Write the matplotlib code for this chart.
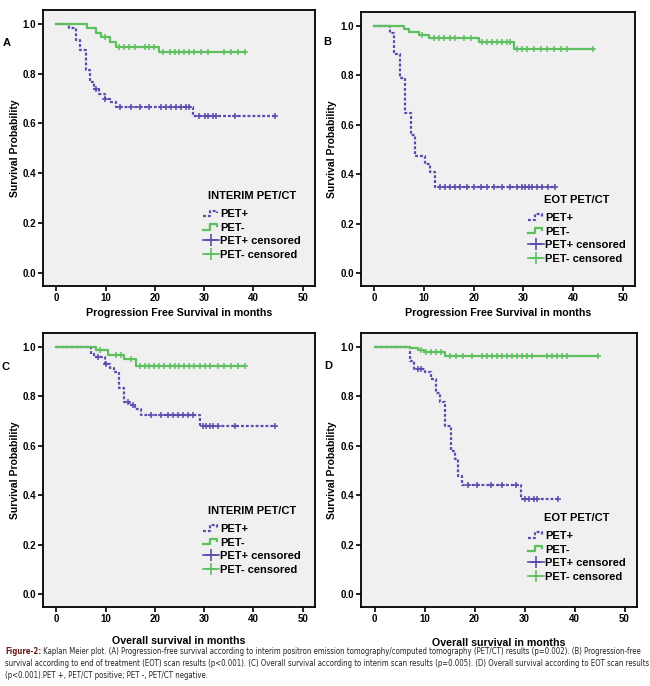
import numpy as np
import matplotlib
matplotlib.use("Agg")
import matplotlib.pyplot as plt
from matplotlib.lines import Line2D
from matplotlib.legend_handler import HandlerBase
from matplotlib import font_manager
from matplotlib.font_manager import FontProperties

# ---------------- data ----------------
panel_letters = ["A", "B", "C", "D"]
legend_titles = ["INTERIM PET/CT", "EOT PET/CT", "INTERIM PET/CT", "EOT PET/CT"]
x_labels = ["Progression Free Survival in months", "Progression Free Survival in months",
            "Overall survival in months", "Overall survival in months"]
series_labels = ["PET+", "PET-", "PET+ censored", "PET- censored"]
y_ticks = [0.0, 0.2, 0.4, 0.6, 0.8, 1.0]
x_ticks = [0, 10, 20, 30, 40, 50]

# Panel A: PFS by interim PET/CT
a_pos_times = [2.6, 4.0, 4.9, 6.0, 6.9, 7.7, 8.7, 9.8, 10.8, 12.1, 27.7]
a_pos_surv = [0.981, 0.934, 0.894, 0.813, 0.766, 0.739, 0.719, 0.699, 0.685, 0.665, 0.629]
a_pos_cens = [8.0, 9.9, 12.9, 15.2, 16.9, 18.9, 21.3, 22.3, 23.3, 24.3, 25.3, 26.4, 27.0,
              28.9, 30.1, 30.8, 31.8, 32.5, 36.2, 44.4]
a_neg_times = [6.2, 8.1, 9.0, 10.8, 12.1, 20.9]
a_neg_surv = [0.981, 0.962, 0.945, 0.927, 0.907, 0.886]
a_neg_cens = [9.8, 12.8, 13.8, 14.8, 15.9, 17.9, 18.9, 19.9, 21.6, 23.0, 24.0, 25.0, 26.0,
              27.0, 28.0, 29.4, 30.8, 34.1, 35.5, 36.9, 38.2]

# Panel B: PFS by EOT PET/CT
b_pos_times = [3.1, 4.0, 5.2, 6.2, 7.3, 8.1, 10.1, 11.2, 12.2]
b_pos_surv = [0.970, 0.884, 0.790, 0.645, 0.558, 0.475, 0.442, 0.408, 0.348]
b_pos_cens = [13.3, 14.3, 15.3, 16.3, 17.3, 18.7, 20.0, 21.4, 22.7, 24.1, 25.7, 27.4, 28.8,
              29.8, 30.4, 31.1, 31.8, 32.8, 33.8, 35.0, 36.3]
b_neg_times = [5.9, 6.9, 8.9, 10.9, 21.0, 28.1]
b_neg_surv = [0.987, 0.973, 0.964, 0.950, 0.933, 0.906]
b_neg_cens = [9.6, 12.0, 13.0, 14.0, 15.3, 16.3, 18.0, 19.4, 21.7, 22.7, 23.7, 24.7, 25.7,
              26.7, 27.4, 28.8, 29.8, 30.8, 32.1, 33.5, 34.8, 36.2, 37.5, 38.8, 44.1]

# Panel C: OS by interim PET/CT
c_pos_times = [7.0, 7.7, 9.8, 10.8, 11.8, 12.8, 13.8, 14.8, 15.9, 17.1, 29.2]
c_pos_surv = [0.972, 0.959, 0.931, 0.915, 0.898, 0.831, 0.777, 0.763, 0.747, 0.723, 0.680]
c_pos_cens = [8.4, 10.1, 14.5, 15.5, 19.2, 21.3, 22.6, 23.6, 24.7, 25.7, 26.7, 27.7, 29.8,
              30.4, 31.1, 31.8, 32.8, 36.2, 44.4]
c_neg_times = [8.1, 10.4, 13.8, 16.2]
c_neg_surv = [0.985, 0.966, 0.948, 0.922]
c_neg_cens = [8.9, 12.1, 13.2, 15.2, 16.9, 17.9, 18.9, 19.9, 20.9, 21.9, 23.0, 24.0, 25.0,
              26.0, 27.0, 28.0, 29.1, 30.1, 31.1, 32.8, 34.1, 35.5, 36.9, 38.2]

# Panel D: OS by EOT PET/CT
d_pos_times = [7.1, 7.9, 10.1, 11.2, 12.2, 13.0, 14.1, 15.2, 16.0, 16.7, 17.5, 29.3]
d_pos_surv = [0.942, 0.911, 0.898, 0.871, 0.814, 0.778, 0.681, 0.579, 0.546, 0.479, 0.440, 0.384]
d_pos_cens = [8.6, 9.3, 18.7, 20.4, 23.2, 25.4, 28.2, 30.1, 30.8, 31.8, 32.5, 36.7]
d_neg_times = [7.1, 8.6, 9.9, 14.0]
d_neg_surv = [0.995, 0.988, 0.977, 0.964]
d_neg_cens = [9.3, 10.3, 11.3, 12.3, 13.3, 15.0, 16.3, 17.7, 19.4, 21.4, 22.4, 23.4, 24.4,
              25.4, 26.4, 27.4, 28.4, 29.4, 30.4, 31.5, 34.5, 35.5, 36.5, 37.5, 38.5, 44.6]

panels = [
    (a_pos_times, a_pos_surv, a_pos_cens, a_neg_times, a_neg_surv, a_neg_cens),
    (b_pos_times, b_pos_surv, b_pos_cens, b_neg_times, b_neg_surv, b_neg_cens),
    (c_pos_times, c_pos_surv, c_pos_cens, c_neg_times, c_neg_surv, c_neg_cens),
    (d_pos_times, d_pos_surv, d_pos_cens, d_neg_times, d_neg_surv, d_neg_cens),
]

caption_lines = [
    "Kaplan Meier plot. (A) Progression-free survival according to interim positron emission tomography/computed tomography (PET/CT) results (p=0.002). (B) Progression-free",
    "survival according to end of treatment (EOT) scan results (p<0.001). (C) Overall survival according to interim scan results (p=0.005). (D) Overall survival according to EOT scan results",
    "(p<0.001).PET +, PET/CT positive; PET -, PET/CT negative.",
]

# ---------------- style ----------------
W, H = 650, 686
PURPLE = "#5a4cae"
GREEN = "#5dbf5d"
BG = "#f0f0f0"
FONT = "Liberation Sans"

plt.rcParams["font.family"] = [FONT, "DejaVu Sans"]


def find_condensed(bold=False):
    best = None
    for f in font_manager.fontManager.ttflist:
        fn = f.fname.lower()
        narrow = ("narrow" in fn or "condensed" in fn or
                  str(f.stretch) in ("condensed", "semi-condensed", "extra-condensed"))
        if not narrow or "mono" in fn or "serif" in fn and "sans" not in fn:
            continue
        is_bold = f.weight in ("bold", 700, "semibold") or (isinstance(f.weight, int) and f.weight >= 600)
        if is_bold != bold:
            continue
        if "italic" in fn or "oblique" in fn:
            continue
        score = 0
        if "liberation" in fn:
            score = 3
        elif "dejavu" in fn:
            score = 2
        else:
            score = 1
        if best is None or score > best[0]:
            best = (score, f.fname)
    return best[1] if best else None


cap_file = find_condensed(False)
cap_bold_file = find_condensed(True)
cap_fp = FontProperties(fname=cap_file) if cap_file else FontProperties(family="DejaVu Sans")
cap_bold_fp = FontProperties(fname=cap_bold_file) if cap_bold_file else FontProperties(family="DejaVu Sans", weight="bold")

fig = plt.figure(figsize=(W / 100, H / 100), dpi=100)
fig.patch.set_facecolor("white")

# axes frames in pixels: left, top, right, bottom
frames = [(43, 10, 315, 286), (361, 12, 635, 286), (43, 333, 315, 607), (361, 333, 637, 607)]
letter_pos = [(7, 43), (327, 42), (5, 367), (328, 366)]
legend_anchor = [(0.588, 0.345), (0.609, 0.333), (0.588, 0.370), (0.605, 0.344)]
xlabel_y = [-0.080, -0.080, -0.106, -0.113]


class StepHandler(HandlerBase):
    def create_artists(self, legend, orig_handle, xdescent, ydescent, width, height, fontsize, trans):
        xs = np.array([0.0, 0.45, 0.45, 0.85, 0.85]) * width - xdescent
        ys = np.array([0.15, 0.15, 0.85, 0.85, 0.55]) * height - ydescent
        ln = Line2D(xs, ys)
        ln.update_from(orig_handle)
        ln.set_marker("None")
        ln.set_transform(trans)
        return [ln]


def surv_at(times, surv, t):
    idx = np.searchsorted(np.asarray(times), np.asarray(t), side="right")
    vals = np.concatenate([[1.0], surv])
    return vals[idx]


for i, (pt, ps, pc, nt, ns, nc) in enumerate(panels):
    l, t, r, b = frames[i]
    ax = fig.add_axes([l / W, 1 - b / H, (r - l) / W, (b - t) / H])
    ax.set_facecolor(BG)
    ax.set_xlim(-2.7, 52.5)
    ax.set_ylim(-0.052, 1.055)

    handles = []
    for times, surv, cens, color, ls in [
        (pt, ps, pc, PURPLE, (0, (1.3, 0.9))),
        (nt, ns, nc, GREEN, "-"),
    ]:
        end = max(cens)
        xs = np.concatenate([[0.0], times, [end]])
        ys = np.concatenate([[1.0], surv, [surv[-1]]])
        (line,) = ax.step(xs, ys, where="post", color=color, linestyle=ls, linewidth=1.6)
        handles.append(line)
    for cens, times, surv, color in [(pc, pt, ps, PURPLE), (nc, nt, ns, GREEN)]:
        ax.plot(cens, surv_at(times, surv, cens), linestyle="none", marker="+",
                markersize=4.5, markeredgewidth=1.1, color=color)

    cens_handles = [
        Line2D([], [], color=PURPLE, marker="+", markersize=9, markeredgewidth=1.2, linewidth=1.2),
        Line2D([], [], color=GREEN, marker="+", markersize=9, markeredgewidth=1.2, linewidth=1.2),
    ]
    leg = ax.legend(handles + cens_handles, series_labels, title=legend_titles[i],
                    loc="upper left", bbox_to_anchor=legend_anchor[i], frameon=False,
                    prop={"family": FONT, "weight": "bold", "size": 8},
                    title_fontproperties={"family": FONT, "weight": "bold", "size": 8},
                    handlelength=1.45, handletextpad=0.1, labelspacing=0.32,
                    borderpad=0, borderaxespad=0, numpoints=1,
                    handler_map={handles[0]: StepHandler(), handles[1]: StepHandler()})
    leg._legend_box.sep = 6

    ax.set_xticks(x_ticks)
    ax.set_yticks(y_ticks)
    ax.set_xticklabels([str(v) for v in x_ticks], fontsize=7, fontweight="bold")
    ax.set_yticklabels([f"{v:.1f}" for v in y_ticks], fontsize=7, fontweight="bold")
    ax.tick_params(axis="both", direction="out", length=3.5, width=1.2, pad=1.5)
    for sp in ax.spines.values():
        sp.set_linewidth(1.3)
        sp.set_color("black")

    ax.set_ylabel("Survival Probability", fontsize=7.5, fontweight="bold")
    ax.yaxis.set_label_coords(-0.086, 0.5)
    ax.set_xlabel(x_labels[i], fontsize=7.7, fontweight="bold")
    ax.xaxis.set_label_coords(0.5, xlabel_y[i])

    lx, ly = letter_pos[i]
    fig.text(lx / W, 1 - ly / H, panel_letters[i], fontsize=8, fontweight="bold",
             ha="center", va="center")

# ---------------- caption ----------------
renderer = fig.canvas.get_renderer()
cap_ys = [651, 663, 675]
x0 = 5
target_w = 640
size = 7.0
lab = fig.text(x0 / W, 1 - cap_ys[0] / H, "Figure-2:", fontproperties=cap_bold_fp,
               color="#6b1c1c", va="center", ha="left")
lab.set_fontsize(size)
t1 = fig.text(0, 1 - cap_ys[0] / H, " " + caption_lines[0], fontproperties=cap_fp,
              va="center", ha="left", color="#222222")
t1.set_fontsize(size)
w_lab = lab.get_window_extent(renderer).width
w1 = t1.get_window_extent(renderer).width
size = min(size * target_w / (w_lab + w1), 8.0)
lab.set_fontsize(size)
t1.set_fontsize(size)
w_lab = lab.get_window_extent(renderer).width
t1.set_x((x0 + w_lab) / W)
for j in (1, 2):
    tj = fig.text(x0 / W, 1 - cap_ys[j] / H, caption_lines[j], fontproperties=cap_fp,
                  va="center", ha="left", color="#222222")
    tj.set_fontsize(size)

fig.savefig("out.png", dpi=100, facecolor="white")
